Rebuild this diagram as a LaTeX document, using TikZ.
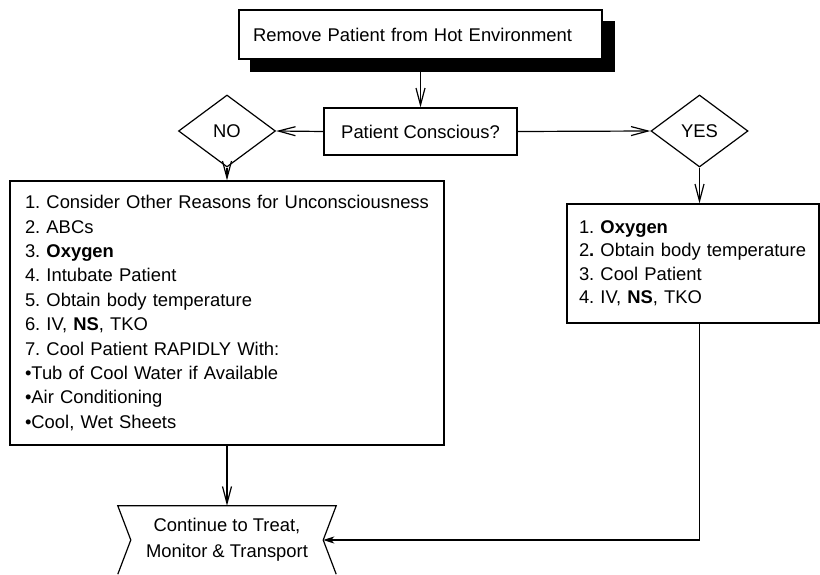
\documentclass[tikz,border=0pt]{standalone}
\usepackage{fontspec}
\setmainfont{Liberation Sans}
\usetikzlibrary{arrows.meta,shapes.geometric}
\AtBeginDocument{\frenchspacing\hyphenpenalty=10000\relax}
\begin{document}
\begin{tikzpicture}[x=1pt,y=-1pt,
  ln/.style={line width=1.2pt},
  box/.style={draw, ln, fill=white, rectangle, inner ysep=0pt, align=left,
    font=\fontsize{18.4}{24.4}\selectfont},
  dia/.style={draw, ln, fill=white, diamond, inner sep=0pt,
    minimum width=97pt, minimum height=72pt, font=\fontsize{18.4}{22}\selectfont},
  arr/.style={ln, -{Straight Barb[length=17pt,width=9pt,line width=1.2pt]}},
  arrS/.style={ln, -{Stealth[length=11pt,width=7pt,inset=3pt]}}
]
\useasboundingbox (0,0) rectangle (820,575);

% top box with shadow
\node[draw, ln, fill=black, rectangle, minimum width=363pt, minimum height=49pt, inner sep=0pt]
  (topshadow) at (432.5,46.5) {};
\node[box, minimum width=363pt, minimum height=49pt, inner xsep=14pt, text width=335pt]
  (top) at (420.5,34.5) {Remove Patient from Hot Environment};

% decision
\node[box, align=center, minimum width=193pt, minimum height=47pt, inner xsep=0pt]
  (pc) at (420.5,131.5) {Patient Conscious?};
\node[dia] (no) at (227,131) {NO};
\node[dia] (yes) at (699.5,131) {YES};

% left box
\node[box, minimum width=434pt, minimum height=264pt, inner xsep=15pt, text width=404pt]
  (lb) at (227,313) {1. Consider Other Reasons for Unconsciousness\\
2. ABCs\\
3. \textbf{Oxygen}\\
4. Intubate Patient\\
5. Obtain body temperature\\
6. IV, \textbf{NS}, TKO\\
7. Cool Patient RAPIDLY With:\\
•Tub of Cool Water if Available\\
•Air Conditioning\\
•Cool, Wet Sheets};

% right box
\node[box, minimum width=252pt, minimum height=119pt, inner xsep=12pt, text width=228pt,
  font=\fontsize{18.4}{23.5}\selectfont]
  (rb) at (693,263.5) {1. \textbf{Oxygen}\\
2\textbf{.} Obtain body temperature\\
3. Cool Patient\\
4. IV, \textbf{NS}, TKO};

% end shape
\node[rectangle, inner sep=0pt, minimum width=218pt, minimum height=68pt, align=center,
  font=\fontsize{18.4}{26}\selectfont]
  (cont) at (227,540) {Continue to Treat,\\Monitor \& Transport};
\draw[ln] (cont.south west) -- ([xshift=13pt]cont.west) -- (cont.north west)
  -- (cont.north east) -- ([xshift=-13pt]cont.east) -- (cont.south east);

% connectors
\draw[arr] (top.south |- topshadow.south) -- (pc.north);
\draw[arr] (pc.west) -- (no.east);
\draw[arr] (pc.east) -- (yes.west);
\draw[arr] (no.south) -- (lb.north);
\draw[arr] (yes.south) -- (yes.south |- rb.north);
\draw[arr] (lb.south) -- (cont.north);
\draw[arrS] (yes.south |- rb.south) |- ([xshift=-13pt]cont.east);
\end{tikzpicture}
\end{document}
